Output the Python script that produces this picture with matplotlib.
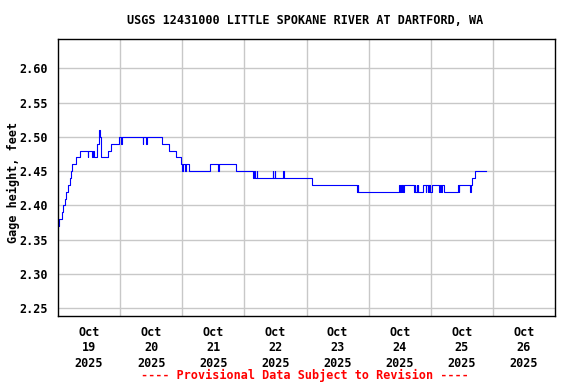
import pandas as pd
import matplotlib
matplotlib.use('Agg')
import matplotlib.pyplot as plt

# Gage height step changes (15-minute data)
times = [
    '2025-10-19 00:00', '2025-10-19 00:15', '2025-10-19 01:30', '2025-10-19 02:00',
    '2025-10-19 02:45', '2025-10-19 03:15', '2025-10-19 03:45', '2025-10-19 04:30',
    '2025-10-19 05:00', '2025-10-19 05:30', '2025-10-19 07:00', '2025-10-19 08:30',
    '2025-10-19 11:30', '2025-10-19 11:45', '2025-10-19 13:15', '2025-10-19 13:30',
    '2025-10-19 13:45', '2025-10-19 15:00', '2025-10-19 16:00', '2025-10-19 16:15',
    '2025-10-19 16:30', '2025-10-19 19:15', '2025-10-19 20:30', '2025-10-19 23:30',
    '2025-10-20 00:30', '2025-10-20 00:45', '2025-10-20 08:45', '2025-10-20 09:00',
    '2025-10-20 10:00', '2025-10-20 10:15', '2025-10-20 16:15', '2025-10-20 18:45',
    '2025-10-20 21:30', '2025-10-20 23:30', '2025-10-21 00:00', '2025-10-21 00:15',
    '2025-10-21 01:15', '2025-10-21 01:30', '2025-10-21 02:30', '2025-10-21 10:45',
    '2025-10-21 14:00', '2025-10-21 14:15', '2025-10-21 20:45', '2025-10-22 03:15',
    '2025-10-22 03:45', '2025-10-22 04:00', '2025-10-22 04:45', '2025-10-22 05:00',
    '2025-10-22 11:00', '2025-10-22 11:15', '2025-10-22 11:45', '2025-10-22 12:00',
    '2025-10-22 15:00', '2025-10-22 15:15', '2025-10-23 02:15', '2025-10-23 19:30',
    '2025-10-23 19:45', '2025-10-23 20:00', '2025-10-24 11:45', '2025-10-24 12:00',
    '2025-10-24 12:30', '2025-10-24 12:45', '2025-10-24 13:00', '2025-10-24 13:15',
    '2025-10-24 13:45', '2025-10-24 17:30', '2025-10-24 17:45', '2025-10-24 18:00',
    '2025-10-24 18:30', '2025-10-24 18:45', '2025-10-24 19:00', '2025-10-24 19:15',
    '2025-10-24 21:00', '2025-10-24 22:00', '2025-10-24 22:15', '2025-10-24 22:45',
    '2025-10-24 23:00', '2025-10-24 23:15', '2025-10-24 23:30', '2025-10-24 23:45',
    '2025-10-25 00:30', '2025-10-25 03:15', '2025-10-25 03:30', '2025-10-25 04:00',
    '2025-10-25 04:15', '2025-10-25 05:15', '2025-10-25 10:30', '2025-10-25 10:45',
    '2025-10-25 11:00', '2025-10-25 15:15', '2025-10-25 15:30', '2025-10-25 16:00',
    '2025-10-25 17:00', '2025-10-25 21:15',
]
gage_ft = [
    2.37, 2.38, 2.39, 2.40,
    2.41, 2.42, 2.43, 2.44,
    2.45, 2.46, 2.47, 2.48,
    2.47, 2.48, 2.47, 2.48,
    2.47, 2.49, 2.51, 2.50,
    2.47, 2.48, 2.49, 2.50,
    2.49, 2.50, 2.49, 2.50,
    2.49, 2.50, 2.49, 2.48,
    2.47, 2.46, 2.45, 2.46,
    2.45, 2.46, 2.45, 2.46,
    2.45, 2.46, 2.45, 2.44,
    2.45, 2.44, 2.45, 2.44,
    2.45, 2.44, 2.45, 2.44,
    2.45, 2.44, 2.43, 2.42,
    2.43, 2.42, 2.43, 2.42,
    2.43, 2.42, 2.43, 2.42,
    2.43, 2.42, 2.43, 2.42,
    2.43, 2.42, 2.43, 2.42,
    2.43, 2.42, 2.43, 2.42,
    2.43, 2.42, 2.43, 2.42,
    2.43, 2.42, 2.43, 2.42,
    2.43, 2.42, 2.43, 2.42,
    2.43, 2.42, 2.43, 2.44,
    2.45, 2.45,
]
day_labels = ['Oct\n19\n2025', 'Oct\n20\n2025', 'Oct\n21\n2025', 'Oct\n22\n2025',
              'Oct\n23\n2025', 'Oct\n24\n2025', 'Oct\n25\n2025', 'Oct\n26\n2025']
y_ticks = [2.25, 2.30, 2.35, 2.40, 2.45, 2.50, 2.55, 2.60]

t = pd.to_datetime(times)
font = {'family': 'DejaVu Sans Mono', 'weight': 'bold', 'size': 8.5}

fig = plt.figure(figsize=(5.76, 3.84), dpi=100)
ax = fig.add_axes([58 / 576, 1 - 316 / 384, 497 / 576, 277 / 384])

ax.plot(t, gage_ft, color='#0000ff', linewidth=0.8, drawstyle='steps-post')

ax.set_xlim(pd.Timestamp('2025-10-19'), pd.Timestamp('2025-10-27'))
ax.set_ylim(2.2388, 2.6427)

# gridlines at midnight, date labels centred on noon
midnights = pd.date_range('2025-10-20', '2025-10-26', freq='D')
noons = pd.date_range('2025-10-19 12:00', periods=8, freq='D')
ax.set_xticks(midnights)
ax.set_xticklabels([])
ax.set_xticks(noons, minor=True)
ax.set_xticklabels(day_labels, minor=True, fontdict=font, linespacing=1.25)
ax.tick_params(axis='x', which='both', length=0, pad=7)

ax.set_yticks(y_ticks)
ax.set_yticklabels(['%.2f' % v for v in y_ticks], fontdict=font)
ax.tick_params(axis='y', length=0, pad=7)

ax.grid(True, which='major', color='#c8c8c8', linewidth=1.0)
ax.set_axisbelow(True)
for s in ax.spines.values():
    s.set_linewidth(1.0)

fig.text(13 / 576, 1 - 182 / 384, 'Gage height, feet', rotation=90,
         ha='center', va='center', **font)
fig.text(305 / 576, 1 - 20 / 384, 'USGS 12431000 LITTLE SPOKANE RIVER AT DARTFORD, WA',
         ha='center', va='center', **font)
fig.text(305 / 576, 1 - 375 / 384, '---- Provisional Data Subject to Revision ----',
         color='red', ha='center', va='center', **font)

fig.savefig('out.png', dpi=100)
